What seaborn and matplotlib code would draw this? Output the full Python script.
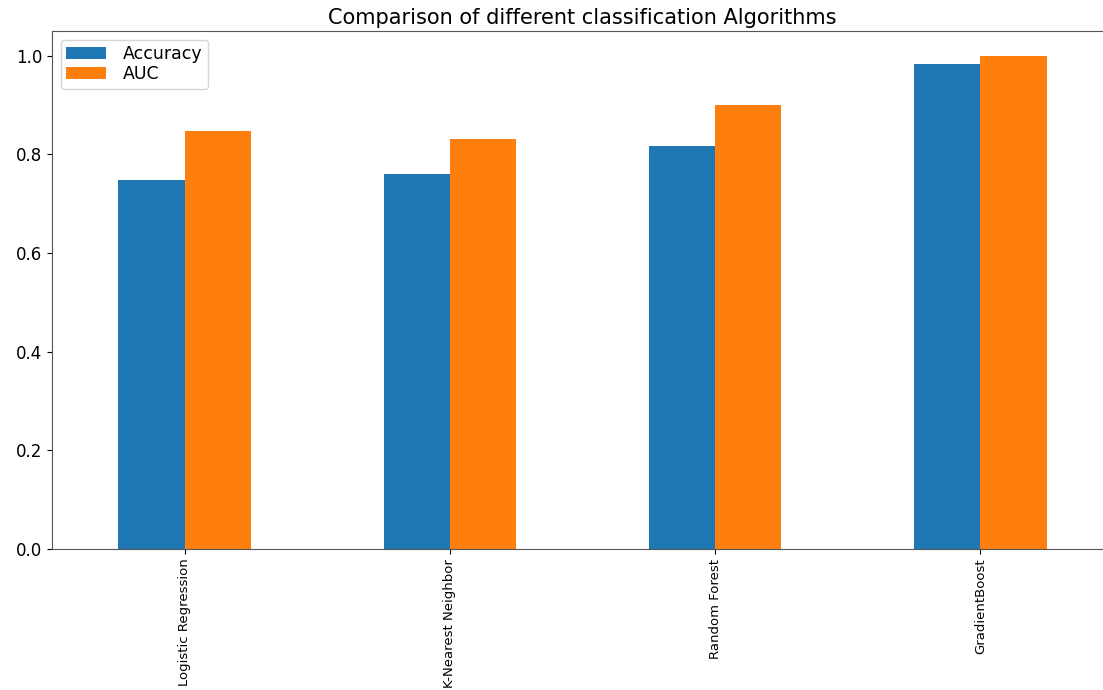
import matplotlib
matplotlib.use("Agg")
import matplotlib.pyplot as plt
import seaborn as sns
import pandas as pd

algorithms = ["Logistic Regression", "K-Nearest Neighbor", "Random Forest", "GradientBoost"]
accuracy = [0.748, 0.760, 0.817, 0.984]
auc = [0.847, 0.831, 0.900, 1.000]
metrics = ["Accuracy", "AUC"]

df = pd.DataFrame({
    "Algorithm": algorithms * 2,
    "Metric": [metrics[0]] * len(algorithms) + [metrics[1]] * len(algorithms),
    "Score": accuracy + auc,
})

fig = plt.figure(figsize=(11.03, 6.90), dpi=100)
ax = fig.add_axes([52 / 1103, 1 - 549 / 690, (1113 - 52) / 1103, (549 - 31) / 690])

sns.barplot(data=df, x="Algorithm", y="Score", hue="Metric", order=algorithms,
            hue_order=metrics, palette=["#1f77b4", "#ff7f0e"], width=0.5,
            saturation=1, ax=ax, errorbar=None)

ax.set_xlim(-0.5, 3.5)
ax.set_ylim(0, 1.05)
ax.set_xlabel("")
ax.set_ylabel("")
ax.set_title("Comparison of different classification Algorithms", fontsize=15, pad=5)
ax.tick_params(axis="x", labelrotation=90, labelsize=9.5)
ax.tick_params(axis="y", labelsize=12)
for s in ax.spines.values():
    s.set_color("#555555")
ax.legend(loc="upper left", fontsize=12.5, handlelength=2.3, labelspacing=0.15,
          handletextpad=1.0, borderpad=0.3, borderaxespad=0.5, title=None)

fig.savefig("out.png", dpi=100)
